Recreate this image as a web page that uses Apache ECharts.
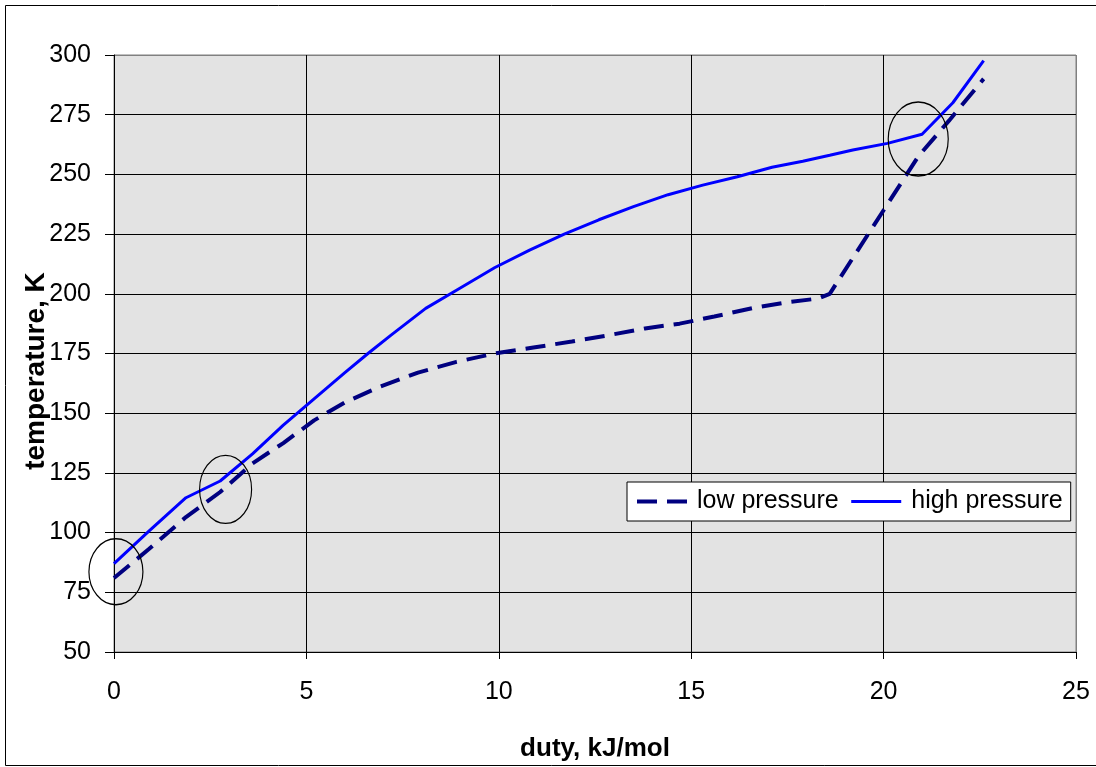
<!DOCTYPE html>
<html>
<head>
<meta charset="utf-8">
<script src="https://cdn.jsdelivr.net/npm/echarts@6/dist/echarts.min.js"></script>
<style>
html,body{margin:0;padding:0;background:#fff;}
#chart{width:1096px;height:767px;}
</style>
</head>
<body>
<div id="chart"></div>
<script>
// ---- data ----
const xTicks = [0, 5, 10, 15, 20, 25];
const yTicks = [50, 75, 100, 125, 150, 175, 200, 225, 250, 275, 300];

const lowDuty = [0, 0.9, 1.87, 2.76, 3.6, 4.4, 5.2, 6.0, 6.9, 7.9, 8.9, 9.9, 10.9, 11.9, 12.8, 13.8, 14.7, 15.6, 16.6, 17.5, 18.3, 18.6, 19.3, 20.0, 20.9, 21.7, 22.6];
const lowTemp = [81, 93, 106.5, 117, 129, 137.5, 147, 154.5, 161, 167, 171.5, 175, 177.5, 180, 182.5, 185.5, 187.5, 190.5, 194, 196.5, 198, 200, 217.5, 235, 257.5, 272.5, 290];

const highDuty = [0, 0.9, 1.87, 2.76, 3.6, 4.4, 5.2, 6.0, 6.6, 7.2, 8.1, 8.9, 9.9, 10.8, 11.7, 12.6, 13.5, 14.4, 15.3, 16.2, 17.1, 17.9, 18.6, 19.2, 20.1, 21.0, 21.8, 22.6];
const highTemp = [87, 100.5, 114.6, 121.6, 133, 145, 156, 167, 175, 182.7, 193.9, 201.5, 211, 218.3, 225, 231, 236.5, 241.5, 245.5, 249, 253, 255.5, 258, 260.2, 263, 266.8, 280, 297.6];

// highlighted regions (ellipses): centre duty, centre temperature
const markDuty = [0.05, 2.9, 20.9];
const markTemp = [83.6, 118.1, 264.8];

const seriesNames = ['low pressure', 'high pressure'];
const xTitle = 'duty, kJ/mol';
const yTitle = 'temperature, K';

// ---- chart ----
const FONT = "'Liberation Sans', Arial, sans-serif";
const chart = echarts.init(document.getElementById('chart'));
const pairs = (xs, ys) => xs.map((x, i) => [x, ys[i]]);
const ellipseSizes = [[54, 66], [52, 68], [60, 74]];

const xLineColors = xTicks.map((t, i) => i === xTicks.length - 1 ? '#808080' : '#000');
const yLineColors = yTicks.map((t, i) => i === yTicks.length - 1 ? '#808080' : '#000');

const lowStyle = { color: '#000080', width: 4, type: [20, 10] };
const highStyle = { color: '#0000ff', width: 3, type: 'solid' };

chart.setOption({
  animation: false,
  backgroundColor: '#ffffff',
  textStyle: { fontFamily: FONT },
  grid: {
    left: 114, top: 55, right: 20, bottom: 115,
    show: true, backgroundColor: '#e3e3e3', borderColor: '#808080', borderWidth: 1,
    containLabel: false, outerBoundsMode: 'none'
  },
  xAxis: {
    type: 'value', min: xTicks[0], max: xTicks[xTicks.length - 1], interval: 5,
    name: xTitle, nameLocation: 'middle', nameGap: 84,
    nameTextStyle: { fontSize: 26, fontWeight: 'bold', color: '#000', fontFamily: FONT },
    axisLine: { show: true, onZero: false, lineStyle: { color: '#000', width: 1 } },
    axisTick: { show: true, length: 7, lineStyle: { color: '#000' } },
    axisLabel: { fontSize: 25, color: '#000', margin: 28, fontFamily: FONT },
    splitLine: { show: true, lineStyle: { color: xLineColors, width: 1 } }
  },
  yAxis: {
    type: 'value', min: yTicks[0], max: yTicks[yTicks.length - 1], interval: 25,
    axisLine: { show: true, onZero: false, lineStyle: { color: '#000', width: 1 } },
    axisTick: { show: true, length: 9, lineStyle: { color: '#000' } },
    axisLabel: { fontSize: 25, color: '#000', margin: 23, fontFamily: FONT },
    splitLine: { show: true, lineStyle: { color: yLineColors, width: 1 } }
  },
  legend: {
    data: [
      { name: seriesNames[0], lineStyle: lowStyle, itemStyle: { opacity: 0 } },
      { name: seriesNames[1], lineStyle: highStyle, itemStyle: { opacity: 0 } }
    ],
    left: 627, top: 482, orient: 'horizontal',
    itemWidth: 50, itemHeight: 14, itemGap: 11,
    padding: [7, 8, 7, 8],
    borderColor: '#000', borderWidth: 1, backgroundColor: '#fff',
    textStyle: { fontSize: 25, color: '#000', fontFamily: FONT, padding: [0, 0, 0, 5] }
  },
  series: [
    {
      name: seriesNames[0], type: 'line', data: pairs(lowDuty, lowTemp),
      symbol: 'none', smooth: false, z: 3,
      lineStyle: lowStyle,
      itemStyle: { color: '#000080' }
    },
    {
      name: seriesNames[1], type: 'line', data: pairs(highDuty, highTemp),
      symbol: 'none', smooth: false, z: 4,
      lineStyle: highStyle,
      itemStyle: { color: '#0000ff' }
    },
    {
      name: 'regions', type: 'scatter', silent: true, z: 5,
      data: pairs(markDuty, markTemp).map((p, i) => ({ value: p, symbolSize: ellipseSizes[i] })),
      symbol: 'circle',
      itemStyle: { color: 'rgba(0,0,0,0)', borderColor: '#000', borderWidth: 1.3, opacity: 1 }
    }
  ],
  graphic: [
    {
      type: 'rect', silent: true, z: -10,
      shape: { x: 5.5, y: 5.5, width: 1100, height: 760 },
      style: { fill: 'none', stroke: '#000', lineWidth: 1 }
    },
    {
      type: 'text', silent: true, x: 36, y: 371, rotation: Math.PI / 2,
      style: {
        text: yTitle, font: "bold 28px 'Liberation Sans', Arial, sans-serif",
        fill: '#000', textAlign: 'center', textVerticalAlign: 'middle'
      }
    }
  ]
});
</script>
</body>
</html>
